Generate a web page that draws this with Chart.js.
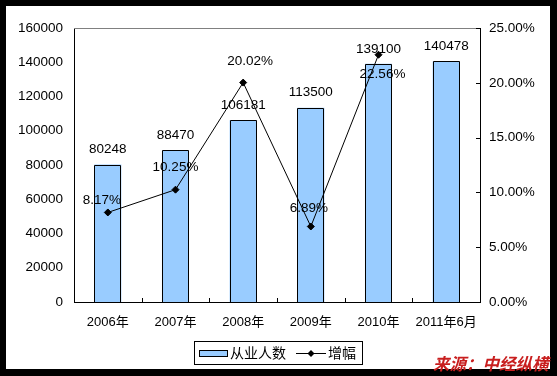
<!DOCTYPE html>
<html>
<head>
<meta charset="utf-8">
<script src="https://cdn.jsdelivr.net/npm/chart.js@4/dist/chart.umd.min.js"></script>
<style>
  html, body { margin: 0; padding: 0; background: #000; }
  #wrap { position: relative; width: 557px; height: 376px; background: #000; overflow: hidden; }
  #paper { position: absolute; left: 6px; top: 6px; width: 544px; height: 363px; background: #fff; }
  #chart { position: absolute; left: 0; top: 0; }
  #source {
    position: absolute; left: 433px; top: 355px;
    font: italic bold 16.5px "Noto Sans CJK SC", sans-serif;
    line-height: 1; color: #c81e1e; white-space: nowrap;
  }
</style>
</head>
<body>
<div id="wrap">
  <div id="paper"></div>
  <canvas id="chart" width="557" height="376"></canvas>
  <div id="source">来源：中经纵横</div>
</div>
<script>
const categories = ['2006年', '2007年', '2008年', '2009年', '2010年', '2011年6月'];
const workers = [80248, 88470, 106181, 113500, 139100, 140478];
const growth = [8.17, 10.25, 20.02, 6.89, 22.56, null];
const leftTicks = [0, 20000, 40000, 60000, 80000, 100000, 120000, 140000, 160000];
const rightTicks = [0, 5, 10, 15, 20, 25];

// hand-placed label offsets for the growth line (px from the point)
const growthLabelDx = [-6, 0, 7, -2, 4, 0];
const growthLabelDy = [-12, -22, -21, -18, 20, 0];

const FONT = '"Liberation Sans", Arial, "Noto Sans CJK SC", sans-serif';

const decor = {
  id: 'decor',
  afterDatasetDraw(chart, args) {
    if (args.index !== 0) return;
    // crisp black outlines on the bars, before the line goes on top
    const ctx = chart.ctx;
    ctx.save();
    ctx.strokeStyle = '#000';
    ctx.lineWidth = 1;
    args.meta.data.forEach((el) => {
      const l = Math.round(el.x - el.width / 2) + 0.5;
      const r = Math.round(el.x + el.width / 2) - 0.5;
      const t = Math.round(el.y) + 0.5;
      const b = Math.round(el.base);
      ctx.beginPath();
      ctx.moveTo(l, b);
      ctx.lineTo(l, t);
      ctx.lineTo(r, t);
      ctx.lineTo(r, b);
      ctx.stroke();
    });
    ctx.restore();
  },
  afterDraw(chart) {
    const { ctx, chartArea: a } = chart;
    const x = chart.scales.x;
    const y1 = chart.scales.y1;
    ctx.save();
    // top border of plot area
    ctx.strokeStyle = '#808080';
    ctx.lineWidth = 1;
    ctx.beginPath();
    ctx.moveTo(a.left, a.top + 0.5);
    ctx.lineTo(a.right, a.top + 0.5);
    ctx.stroke();

    // inward tick marks
    ctx.strokeStyle = '#000';
    ctx.beginPath();
    for (let i = 1; i < categories.length; i++) {
      const px = Math.round((x.getPixelForValue(i - 1) + x.getPixelForValue(i)) / 2) + 0.5;
      ctx.moveTo(px, a.bottom);
      ctx.lineTo(px, a.bottom - 4);
    }
    rightTicks.forEach((v) => {
      const py = Math.round(y1.getPixelForValue(v)) + 0.5;
      ctx.moveTo(a.right, py);
      ctx.lineTo(a.right - 4, py);
    });
    ctx.stroke();

    // value labels
    ctx.fillStyle = '#000';
    ctx.font = '13.5px ' + FONT;
    ctx.textAlign = 'center';
    ctx.textBaseline = 'middle';
    chart.getDatasetMeta(0).data.forEach((el, i) => {
      ctx.fillText(String(workers[i]), el.x, el.y - 15);
    });
    chart.getDatasetMeta(1).data.forEach((el, i) => {
      if (growth[i] == null) return;
      ctx.fillText(growth[i].toFixed(2) + '%', el.x + growthLabelDx[i], el.y + growthLabelDy[i]);
    });

    // legend box
    const ds = chart.data.datasets;
    ctx.strokeRect(194.5, 341.5, 168, 23);
    ctx.fillStyle = ds[0].backgroundColor;
    ctx.fillRect(199.5, 350.5, 28, 6);
    ctx.strokeRect(199.5, 350.5, 28, 6);
    ctx.fillStyle = '#000';
    ctx.font = '14px "Noto Sans CJK SC", sans-serif';
    ctx.textAlign = 'left';
    ctx.fillText(ds[0].label, 230, 353);
    ctx.beginPath();
    ctx.moveTo(296, 353.5);
    ctx.lineTo(326, 353.5);
    ctx.stroke();
    ctx.beginPath();
    ctx.moveTo(311, 350);
    ctx.lineTo(314.5, 353.5);
    ctx.lineTo(311, 357);
    ctx.lineTo(307.5, 353.5);
    ctx.closePath();
    ctx.fill();
    ctx.fillText(ds[1].label, 328, 353);
    ctx.restore();
  }
};

new Chart(document.getElementById('chart'), {
  data: {
    labels: categories,
    datasets: [
      {
        type: 'bar',
        label: '从业人数',
        data: workers,
        yAxisID: 'y',
        backgroundColor: '#99ccff',
        borderWidth: 0,
        categoryPercentage: 1,
        barPercentage: 0.4,
        order: 2
      },
      {
        type: 'line',
        label: '增幅',
        data: growth,
        yAxisID: 'y1',
        borderColor: '#000',
        borderWidth: 1,
        pointStyle: 'rectRot',
        pointRadius: 3.5,
        pointBackgroundColor: '#000',
        pointBorderColor: '#000',
        spanGaps: false,
        order: 1
      }
    ]
  },
  options: {
    responsive: false,
    animation: false,
    layout: { padding: { top: 28, left: 0, right: 0, bottom: 0 } },
    plugins: { legend: { display: false }, tooltip: { enabled: false } },
    scales: {
      x: {
        offset: true,
        grid: { display: false, drawTicks: false },
        border: { color: '#000', width: 1 },
        ticks: { color: '#000', font: { family: FONT, size: 13 }, padding: 13, maxRotation: 0 },
        afterFit: (s) => { s.height = 74; }
      },
      y: {
        position: 'left',
        min: 0,
        max: 160000,
        afterBuildTicks: (s) => { s.ticks = leftTicks.map((v) => ({ value: v })); },
        grid: { display: false, drawTicks: false },
        border: { color: '#000', width: 1 },
        ticks: {
          color: '#000',
          font: { family: FONT, size: 13.5 },
          padding: 11,
          callback: (v) => String(v)
        },
        afterFit: (s) => { s.width = 74; }
      },
      y1: {
        position: 'right',
        min: 0,
        max: 25,
        afterBuildTicks: (s) => { s.ticks = rightTicks.map((v) => ({ value: v })); },
        grid: { display: false, drawTicks: false },
        border: { color: '#000', width: 1 },
        ticks: {
          color: '#000',
          font: { family: FONT, size: 13.5 },
          padding: 9,
          callback: (v) => Number(v).toFixed(2) + '%'
        },
        afterFit: (s) => { s.width = 77; }
      }
    }
  },
  plugins: [decor]
});
</script>
</body>
</html>
